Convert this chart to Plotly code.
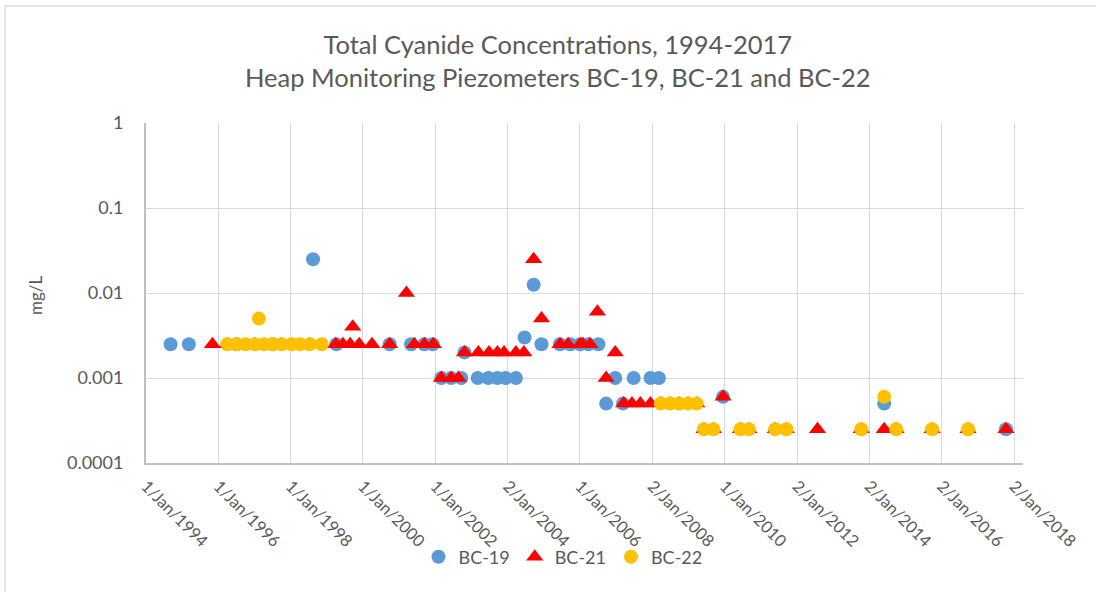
import plotly.graph_objects as go

# Sampling dates and total cyanide (mg/L) per piezometer
bc19_dates = [
    "1994-09-06", "1995-03-10", "1996-07-05", "1997-07-02", "1998-08-15",
    "1999-04-08", "2000-09-27", "2001-05-01", "2001-09-12", "2001-12-05",
    "2002-03-03", "2002-06-10", "2002-09-20", "2002-10-23", "2003-03-05",
    "2003-06-20", "2003-09-20", "2003-12-12", "2004-03-25", "2004-06-20",
    "2004-09-20", "2004-12-08", "2005-06-13", "2005-09-24", "2006-01-03",
    "2006-03-27", "2006-07-06", "2006-09-22", "2006-12-23", "2007-03-11",
    "2007-06-27", "2007-12-14", "2008-03-08", "2009-12-16", "2014-05-31",
    "2017-10-12",
]
bc19_vals = [
    0.0025, 0.0025, 0.0025, 0.0025, 0.025,
    0.0025, 0.0025, 0.0025, 0.0025, 0.0025,
    0.001, 0.001, 0.001, 0.002, 0.001,
    0.001, 0.001, 0.001, 0.001, 0.003,
    0.0125, 0.0025, 0.0025, 0.0025, 0.0025,
    0.0025, 0.0025, 0.0005, 0.001, 0.0005,
    0.001, 0.001, 0.001, 0.0006, 0.0005,
    0.00025,
]

bc21_dates = [
    "1995-11-03", "1996-04-01", "1997-01-05", "1997-10-01", "1998-07-13",
    "1999-04-01", "1999-06-13", "1999-08-25", "1999-09-20", "1999-11-24",
    "2000-04-01", "2000-09-27", "2001-03-15", "2001-06-03", "2001-09-12",
    "2001-12-12", "2002-03-03", "2002-06-10", "2002-08-22", "2002-10-23",
    "2003-03-12", "2003-06-27", "2003-09-20", "2003-11-26", "2004-03-25",
    "2004-06-13", "2004-09-20", "2004-12-08", "2005-06-13", "2005-09-03",
    "2006-01-03", "2006-01-31", "2006-04-12", "2006-06-26", "2006-09-22",
    "2006-12-23", "2007-03-18", "2007-06-10", "2007-09-03", "2007-12-14",
    "2008-03-26", "2008-06-28", "2008-09-27", "2008-12-27", "2009-03-25",
    "2009-06-06", "2009-09-09", "2009-12-16", "2010-06-10", "2010-09-02",
    "2011-05-27", "2011-09-16", "2012-07-27", "2013-10-12", "2014-05-31",
    "2014-09-28", "2015-09-27", "2016-09-24", "2017-10-12",
]
bc21_vals = [
    0.0025, 0.0025, 0.0025, 0.0025, 0.0025,
    0.0025, 0.0025, 0.0025, 0.004, 0.0025,
    0.0025, 0.0025, 0.01, 0.0025, 0.0025,
    0.0025, 0.001, 0.001, 0.001, 0.002,
    0.002, 0.002, 0.002, 0.002, 0.002,
    0.002, 0.025, 0.005, 0.0025, 0.0025,
    0.0025, 0.0025, 0.0025, 0.006, 0.001,
    0.002, 0.0005, 0.0005, 0.0005, 0.0005,
    0.0005, 0.0005, 0.0005, 0.0005, 0.0005,
    0.00025, 0.00025, 0.0006, 0.00025, 0.00025,
    0.00025, 0.00025, 0.00025, 0.00025, 0.00025,
    0.00025, 0.00025, 0.00025, 0.00025,
]

bc22_dates = [
    "1996-04-01", "1996-07-05", "1996-10-04", "1997-01-05", "1997-02-14",
    "1997-04-06", "1997-07-02", "1997-10-01", "1998-01-12", "1998-04-06",
    "1998-07-13", "1998-11-10", "2008-03-26", "2008-06-28", "2008-09-27",
    "2008-12-27", "2009-03-25", "2009-06-06", "2009-09-09", "2010-06-10",
    "2010-09-02", "2011-05-27", "2011-09-16", "2013-10-12", "2014-05-31",
    "2014-09-28", "2015-09-27", "2016-09-24",
]
bc22_vals = [
    0.0025, 0.0025, 0.0025, 0.0025, 0.005,
    0.0025, 0.0025, 0.0025, 0.0025, 0.0025,
    0.0025, 0.0025, 0.0005, 0.0005, 0.0005,
    0.0005, 0.0005, 0.00025, 0.00025, 0.00025,
    0.00025, 0.00025, 0.00025, 0.00025, 0.0006,
    0.00025, 0.00025, 0.00025,
]

x_tick_dates = [
    "1994-01-01", "1996-01-01", "1998-01-01", "2000-01-01", "2002-01-01",
    "2004-01-02", "2006-01-01", "2008-01-02", "2010-01-01", "2012-01-02",
    "2014-01-02", "2016-01-02", "2018-01-02",
]
x_tick_labels = [
    "1/Jan/1994", "1/Jan/1996", "1/Jan/1998", "1/Jan/2000", "1/Jan/2002",
    "2/Jan/2004", "1/Jan/2006", "2/Jan/2008", "1/Jan/2010", "2/Jan/2012",
    "2/Jan/2014", "2/Jan/2016", "2/Jan/2018",
]
y_tick_vals = [0.0001, 0.001, 0.01, 0.1, 1]
y_tick_labels = ["0.0001", "0.001", "0.01", "0.1", "1"]

FONT = "Lato"
TEXT = "#595959"
GRID = "#d9d9d9"
AXIS = "#bfbfbf"

fig = go.Figure()
fig.add_trace(go.Scatter(
    x=bc19_dates, y=bc19_vals, mode="markers", name="BC-19",
    marker=dict(symbol="circle", size=14, color="#5b9bd5"),
))
fig.add_trace(go.Scatter(
    x=bc21_dates, y=bc21_vals, mode="markers", name="BC-21",
    marker=dict(symbol="triangle-up", size=15, color="#ff0000"),
))
fig.add_trace(go.Scatter(
    x=bc22_dates, y=bc22_vals, mode="markers", name="BC-22",
    marker=dict(symbol="circle", size=14, color="#ffc000"),
))

W, H = 1096, 592
L, R, T, B = 146, 73, 123, 129
pw, ph = W - L - R, H - T - B


def px_x(p):
    return (p - L) / pw


def px_y(p):
    return 1 - (p - T) / ph


fig.update_layout(
    width=W, height=H,
    margin=dict(l=L, r=R, t=T, b=B),
    paper_bgcolor="white", plot_bgcolor="white",
    font=dict(family=FONT, color=TEXT, size=16),
    showlegend=True,
    legend=dict(
        orientation="h", xanchor="center", yanchor="middle",
        x=px_x(563), y=px_y(557),
        font=dict(family=FONT, size=18, color=TEXT),
        bgcolor="rgba(0,0,0,0)", itemclick=False,
    ),
    xaxis=dict(
        type="date", range=["1994-01-01", "2018-04-02"],
        tickvals=x_tick_dates, ticktext=x_tick_labels, tickangle=45,
        showgrid=True, gridcolor=GRID, gridwidth=1.3,
        showline=True, linecolor=AXIS, linewidth=2,
        ticks="outside", ticklen=5, tickcolor="rgba(0,0,0,0)",
        tickfont=dict(family=FONT, size=16.5, color=TEXT),
        zeroline=False,
    ),
    yaxis=dict(
        type="log", range=[-4, 0],
        tickvals=y_tick_vals, ticktext=y_tick_labels,
        showgrid=True, gridcolor=GRID, gridwidth=1.3,
        showline=True, linecolor=AXIS, linewidth=2,
        ticks="outside", ticklen=17, tickcolor="rgba(0,0,0,0)",
        tickfont=dict(family=FONT, size=18, color=TEXT),
        zeroline=False,
    ),
    annotations=[
        dict(
            text="Total Cyanide Concentrations, 1994-2017<br>"
                 "Heap Monitoring Piezometers BC-19, BC-21 and BC-22",
            xref="paper", yref="paper", x=px_x(558), y=px_y(61),
            xanchor="center", yanchor="middle", showarrow=False,
            font=dict(family=FONT, size=25.5, color=TEXT),
        ),
        dict(
            text="mg/L", textangle=-90,
            xref="paper", yref="paper", x=px_x(35), y=px_y(295),
            xanchor="center", yanchor="middle", showarrow=False,
            font=dict(family=FONT, size=17, color=TEXT),
        ),
    ],
    shapes=[
        dict(type="rect", xref="paper", yref="paper",
             x0=px_x(5), x1=px_x(1104), y0=px_y(600), y1=px_y(6),
             line=dict(color=GRID, width=1.3), fillcolor="rgba(0,0,0,0)",
             layer="below"),
    ],
)

fig.write_html("out.html")
